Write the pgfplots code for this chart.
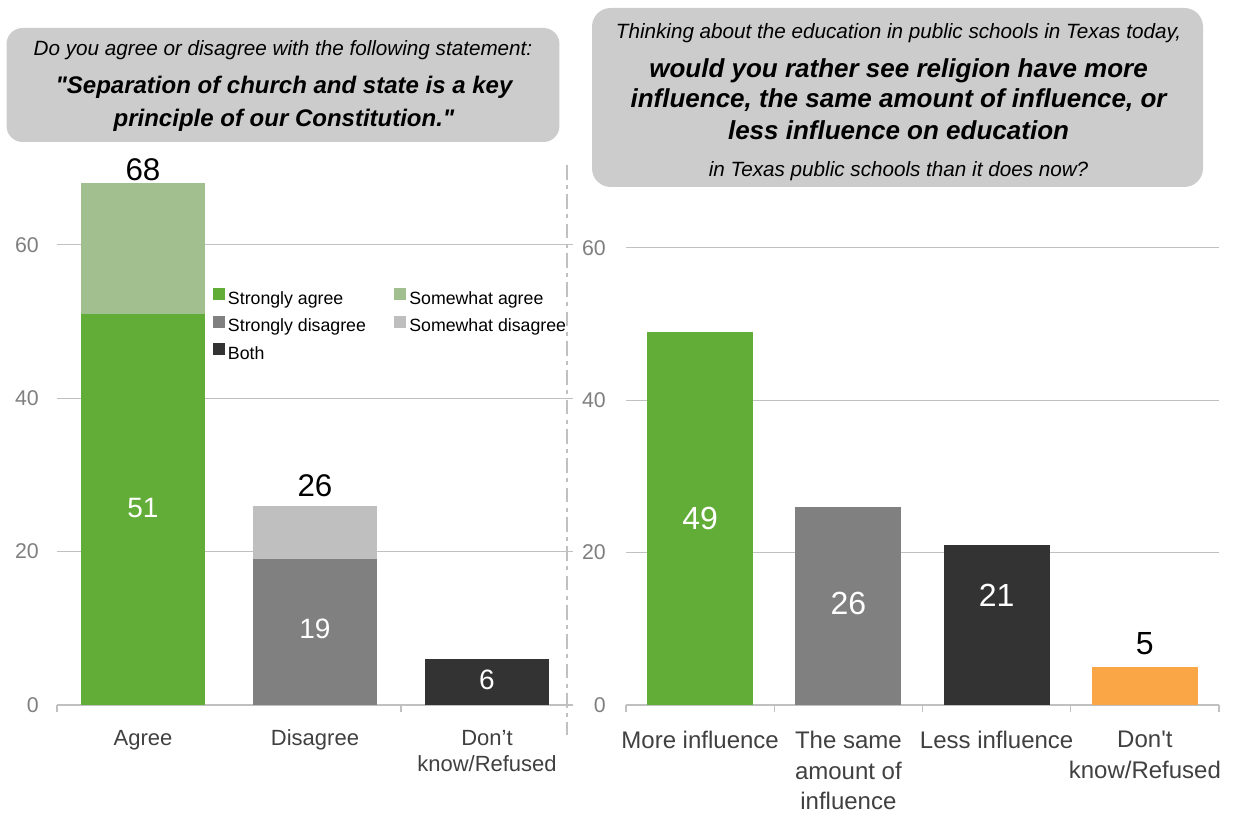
\documentclass[border=0pt]{standalone}
\usepackage{fontspec}
\setmainfont{Liberation Sans}[Ligatures=TeXOff]
\usepackage{pgfplots}
\pgfplotsset{compat=1.18}
\definecolor{sagree}{HTML}{62AD37}
\definecolor{wagree}{HTML}{A2BF8F}
\definecolor{sdis}{HTML}{808080}
\definecolor{wdis}{HTML}{BFBFBF}
\definecolor{both}{HTML}{333333}
\definecolor{dk}{HTML}{FAA646}
\definecolor{boxgray}{HTML}{CCCCCC}
\definecolor{gridgray}{HTML}{C0C0C0}
\definecolor{ticklab}{HTML}{7F7F7F}
\definecolor{catlab}{HTML}{404040}
\pgfplotsset{
 common/.style={
  scale only axis,
  ymin=0, ymax=70, ytick={0,20,40,60},
  axis x line*=bottom, axis y line*=left,
  y axis line style={draw=none},
  x axis line style={gridgray, line width=1pt},
  ymajorgrids, grid style={gridgray, line width=1pt},
  ytick style={draw=none},
  xtick style={gridgray, line width=1pt},
  tick align=outside,
  major tick length=0pt,
  xtick pos=bottom, ytick pos=left,
  /pgf/number format/assume math mode=true,
  yticklabel style={font=\fontsize{16}{19}\selectfont, color=ticklab, inner sep=0pt, anchor=east},
  extra x tick style={major tick length=5.25pt},
  extra x tick labels={\empty,\empty,\empty,\empty,\empty},
 },
 barplot/.style={ybar, bar shift=0pt, draw=none, forget plot},
}
\begin{document}
\begin{tikzpicture}
\useasboundingbox (0,0) rectangle (925.5pt,609.75pt);
% question boxes
\fill[boxgray, rounded corners=12pt] (4.9pt,503.25pt) rectangle (419.6pt,588.75pt);
\fill[boxgray, rounded corners=14pt] (444pt,469.5pt) rectangle (902.25pt,603.75pt);
\node[anchor=base, inner sep=0pt, font=\fontsize{15.5}{18}\selectfont\itshape] at (212.25pt,567.9pt) {Do you agree or disagree with the following statement:};
\node[anchor=base, inner sep=0pt, font=\fontsize{18}{22}\selectfont\bfseries\itshape] at (213pt,539.55pt) {"Separation of church and state is a key};
\node[anchor=base, inner sep=0pt, font=\fontsize{18}{22}\selectfont\bfseries\itshape] at (213pt,514.8pt) {principle of our Constitution."};
\node[anchor=base, inner sep=0pt, font=\fontsize{15.5}{18}\selectfont\itshape] at (673.9pt,580.9pt) {Thinking about the education in public schools in Texas today,};
\node[anchor=base, inner sep=0pt, font=\fontsize{19.5}{23}\selectfont\bfseries\itshape] at (673.9pt,551.5pt) {would you rather see religion have more};
\node[anchor=base, inner sep=0pt, font=\fontsize{19.5}{23}\selectfont\bfseries\itshape] at (673.9pt,529.2pt) {influence, the same amount of influence, or};
\node[anchor=base, inner sep=0pt, font=\fontsize{19.5}{23}\selectfont\bfseries\itshape] at (673.9pt,505.2pt) {less influence on education};
\node[anchor=base, inner sep=0pt, font=\fontsize{15.5}{18}\selectfont\itshape] at (673.9pt,477pt) {in Texas public schools than it does now?};
% separator
\draw[gridgray, line width=1.5pt, dash pattern=on 11pt off 4pt on 3pt off 4pt] (425.25pt,486pt) -- (425.25pt,58.5pt);

% left chart
\begin{axis}[common, at={(42.75pt,81pt)}, anchor=south west,
  width=387pt, height=402.7pt, xmin=-0.5, xmax=2.5,
  xtick={0,1,2}, xticklabels={Agree, Disagree, {Don’t\\know/Refused}},
  xticklabel style={font=\fontsize{16.5}{19.5}\selectfont, color=catlab, align=center, anchor=north, inner sep=0pt, yshift=-18.5pt},
  yticklabel style={xshift=-13.5pt},
  extra x ticks={-0.5,1.5},
  legend columns=2,
  legend cell align=left,
  legend image code/.code={\fill[#1] (0pt,-0.6pt) rectangle (9pt,8.4pt);},
  legend style={at={(axis cs:0.405,54.3)}, anchor=north west, draw=none, fill=none, inner sep=0pt, outer sep=0pt,
    font=\fontsize{13.3}{16}\selectfont, text=black,
    nodes={inner sep=0pt, text height=9.6pt, text depth=2.8pt},
    row sep=6pt,
    /tikz/every odd column/.append style={column sep=2.5pt},
    /tikz/every even column/.append style={column sep=21pt}},
]
\addplot[barplot, bar width=93pt, fill=wagree] coordinates {(0,68)};
\addplot[barplot, bar width=93pt, fill=sagree] coordinates {(0,51)};
\addplot[barplot, bar width=93pt, fill=wdis] coordinates {(1,26)};
\addplot[barplot, bar width=93pt, fill=sdis] coordinates {(1,19)};
\addplot[barplot, bar width=93pt, fill=both] coordinates {(2,6)};
\addplot[draw=none, forget plot, nodes near coords, point meta=explicit symbolic,
  every node near coord/.append style={font=\fontsize{21}{24}\selectfont, color=white, anchor=center, inner sep=0pt}]
  coordinates {(0,25.7) [51] (1,9.9) [19] (2,3.3) [6]};
\addplot[draw=none, forget plot, nodes near coords, point meta=explicit symbolic,
  every node near coord/.append style={font=\fontsize{23.5}{27}\selectfont, color=black, anchor=center, inner sep=0pt}]
  coordinates {(0,69.8) [68] (1,28.6) [26]};
\addlegendimage{fill=sagree, draw=none}
\addlegendimage{fill=wagree, draw=none}
\addlegendimage{fill=sdis, draw=none}
\addlegendimage{fill=wdis, draw=none}
\addlegendimage{fill=both, draw=none}
\legend{Strongly agree, Somewhat agree, Strongly disagree, Somewhat disagree, Both}
\end{axis}

% right chart
\begin{axis}[common, at={(469.5pt,81pt)}, anchor=south west,
  width=444.75pt, height=400.05pt, xmin=-0.5, xmax=3.5,
  xtick={0,1,2,3}, xticklabels={More influence, {The same\\amount of\\influence}, Less influence, {Don't\\know/Refused}},
  xticklabel style={font=\fontsize{18}{23}\selectfont, color=catlab, align=center, anchor=north, inner sep=0pt, yshift=-19.5pt},
  yticklabel style={xshift=-15pt},
  extra x ticks={-0.5,0.5,1.5,2.5,3.5},
]
\addplot[barplot, bar width=79.5pt, fill=sagree] coordinates {(0,49)};
\addplot[barplot, bar width=79.5pt, fill=sdis] coordinates {(1,26)};
\addplot[barplot, bar width=79.5pt, fill=both] coordinates {(2,21)};
\addplot[barplot, bar width=79.5pt, fill=dk] coordinates {(3,5)};
\addplot[draw=none, forget plot, nodes near coords, point meta=explicit symbolic,
  every node near coord/.append style={font=\fontsize{24}{28}\selectfont, color=white, anchor=center, inner sep=0pt}]
  coordinates {(0,24.5) [49] (1,13.3) [26] (2,14.4) [21]};
\addplot[draw=none, forget plot, nodes near coords, point meta=explicit symbolic,
  every node near coord/.append style={font=\fontsize{24}{28}\selectfont, color=black, anchor=center, inner sep=0pt}]
  coordinates {(3,8.1) [5]};
\end{axis}
\end{tikzpicture}
\end{document}
